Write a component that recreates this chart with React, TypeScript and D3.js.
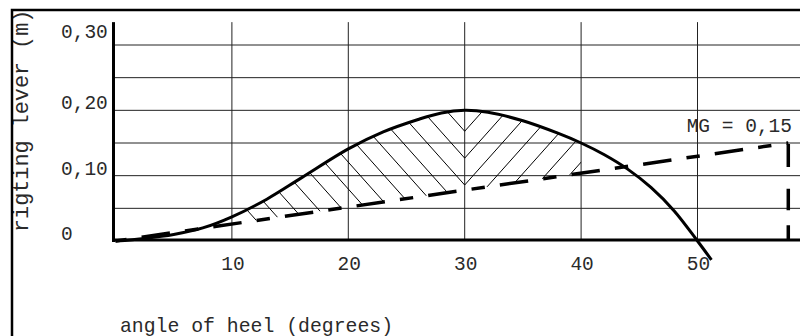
import React from "react";
import * as d3 from "d3";

// ---- data ----
const angles = [0, 2.5, 5, 7.5, 10, 13, 16, 20, 23, 26, 28, 30, 32, 35, 38, 40, 42, 44, 46, 48, 50, 51.2];
const gzValues = [0, 0.004, 0.01, 0.02, 0.037, 0.064, 0.097, 0.141, 0.167, 0.186, 0.196, 0.2, 0.197, 0.184, 0.165, 0.15, 0.132, 0.11, 0.082, 0.046, 0.0, -0.029];
const xTickValues = [10, 20, 30, 40, 50];
const yTickValues = [0, 0.1, 0.2, 0.3];
const yTickLabels = ["0", "0,10", "0,20", "0,30"];
const gridValues = [0.05, 0.1, 0.15, 0.2, 0.25, 0.3];
const mgAngle = 57.8;
const mgValue = 0.15;
const mgLabel = "MG = 0,15";
const hatchRange = [11.2, 40];
const hatchApex = 30;
const xTitle = "angle of heel (degrees)";
const yTitle = "rigting lever (m)";

const W = 800;
const H = 336;

export default function App() {
  const x = d3.scaleLinear().domain([0, 10]).range([115.5, 231.9]);
  const y = d3.scaleLinear().domain([0, 0.3]).range([241, 45]);
  const yTop = 0.335;
  const font = "'Liberation Mono', 'DejaVu Sans Mono', monospace";

  const pts = angles.map((a, i) => ({ a, g: gzValues[i] }));
  const curveLine = d3
    .line<{ a: number; g: number }>()
    .x((d) => x(d.a))
    .y((d) => y(d.g))
    .curve(d3.curveCatmullRom.alpha(0.5));

  const tangent = (a: number) => (mgValue * a) / mgAngle;
  const area = d3
    .area<{ a: number; g: number }>()
    .x((d) => x(d.a))
    .y0((d) => y(tangent(d.a)))
    .y1((d) => y(d.g))
    .curve(d3.curveCatmullRom.alpha(0.5));

  // hatch lines: chevrons with apex on the 30 deg line
  const apexX = x(hatchApex);
  const slope = 1.12;
  const spacing = 24 * slope;
  const baseApexY = y(0) - 56;
  const hatch: string[] = [];
  for (let k = -6; k <= 14; k++) {
    const c = baseApexY + k * spacing;
    const L = 260;
    hatch.push(`M${apexX - L},${c - slope * L}L${apexX},${c}L${apexX + L},${c - slope * L}`);
  }

  const x0 = x(0);
  const y0 = y(0);
  const txt = "#2a2a2a";

  return (
    <svg
      width={W}
      height={H}
      style={{ position: "absolute", left: 0, top: 0, background: "#fff" }}
      fontFamily={font}
    >
      <defs>
        <clipPath id="hatchArea">
          <path d={area(pts.filter((p) => p.a <= 50)) || ""} />
        </clipPath>
        <clipPath id="hatchRange">
          <rect x={x(hatchRange[0])} y={0} width={x(hatchRange[1]) - x(hatchRange[0])} height={H} />
        </clipPath>
      </defs>
      <rect width={W} height={H} fill="#fff" />

      {/* grid */}
      {gridValues.map((v) => (
        <line key={"h" + v} x1={x0 - 2} x2={W} y1={y(v)} y2={y(v)} stroke="#222" strokeWidth={1} />
      ))}
      {xTickValues.map((v) => (
        <line key={"v" + v} x1={x(v)} x2={x(v)} y1={y(yTop)} y2={y0} stroke="#222" strokeWidth={1} />
      ))}

      {/* hatch */}
      <g clipPath="url(#hatchRange)">
        <g clipPath="url(#hatchArea)">
          {hatch.map((d, i) => (
            <path key={i} d={d} fill="none" stroke="#000" strokeWidth={1} />
          ))}
        </g>
      </g>

      {/* tangent (MG) dashed line */}
      <line
        x1={x(0)}
        y1={y(0)}
        x2={x(mgAngle)}
        y2={y(mgValue)}
        stroke="#000"
        strokeWidth={3.5}
        strokeDasharray="28.6 15.2 13.4 15.2"
        strokeDashoffset={46}
      />
      <line
        x1={x(mgAngle)}
        y1={y(mgValue) + 1}
        x2={x(mgAngle)}
        y2={y(0)}
        stroke="#000"
        strokeWidth={3.5}
        strokeDasharray="23 21.7 21.6 15"
      />

      {/* GZ curve */}
      <path d={curveLine(pts) || ""} fill="none" stroke="#000" strokeWidth={3} strokeLinejoin="round" />

      {/* axes */}
      <line x1={x0 - 2} x2={x0 - 2} y1={y(yTop)} y2={y0 + 1} stroke="#000" strokeWidth={3} />
      <line x1={x0 - 3.5} x2={W} y1={y0 - 1} y2={y0 - 1} stroke="#000" strokeWidth={3} />

      {/* tick labels */}
      {xTickValues.map((v) => (
        <text key={"xt" + v} x={x(v) + 1} y={270} textAnchor="middle" fontSize={19.5} fill={txt}>
          {v}
        </text>
      ))}
      {yTickValues.map((v, i) => (
        <text
          key={"yt" + v}
          x={61}
          y={y(v) + (i === yTickValues.length - 1 ? -7 : -1)}
          textAnchor="start"
          fontSize={19.5}
          fill={txt}
        >
          {yTickLabels[i]}
        </text>
      ))}

      {/* MG label */}
      <text x={792} y={131.5} textAnchor="end" fontSize={19.5} fill={txt}>
        {mgLabel}
      </text>

      {/* axis titles */}
      <text x={120} y={331.5} fontSize={19.8} fill={txt}>
        {xTitle}
      </text>
      <text transform="translate(28.3,232) rotate(-90)" fontSize={21.8} fill={txt}>
        {yTitle}
      </text>

      {/* frame */}
      <rect x={12} y={10} width={W + 50} height={H + 50} fill="none" stroke="#000" strokeWidth={2.5} />
    </svg>
  );
}
